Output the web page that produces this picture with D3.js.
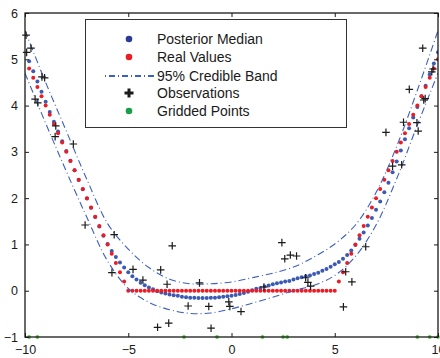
<!DOCTYPE html>
<html><head><meta charset="utf-8">
<script src="https://cdn.jsdelivr.net/npm/d3@7"></script>
<style>
html,body{margin:0;padding:0;background:#fff;}
svg{display:block;font-family:"Liberation Sans",Arial,Helvetica,sans-serif;}
</style></head>
<body><svg id="c" width="440" height="358"></svg>
<script>
// ---------- data ----------
const gridX = [-9.8,-9.6,-9.4,-9.2,-9.0,-8.8,-8.6,-8.4,-8.2,-8.0,-7.8,-7.6,-7.4,-7.2,-7.0,-6.8,-6.6,-6.4,-6.2,-6.0,
 -5.8,-5.6,-5.4,-5.2,-5.0,-4.8,-4.6,-4.4,-4.2,-4.0,-3.8,-3.6,-3.4,-3.2,-3.0,-2.8,-2.6,-2.4,-2.2,-2.0,
 -1.8,-1.6,-1.4,-1.2,-1.0,-0.8,-0.6,-0.4,-0.2,0.0,0.2,0.4,0.6,0.8,1.0,1.2,1.4,1.6,1.8,2.0,
 2.2,2.4,2.6,2.8,3.0,3.2,3.4,3.6,3.8,4.0,4.2,4.4,4.6,4.8,5.0,5.2,5.4,5.6,5.8,6.0,
 6.2,6.4,6.6,6.8,7.0,7.2,7.4,7.6,7.8,8.0,8.2,8.4,8.6,8.8,9.0,9.2,9.4,9.6,9.8,10.0];
const posteriorMedian = [4.96,4.74,4.52,4.30,4.08,3.86,3.65,3.44,3.23,3.02,2.81,2.60,2.39,2.19,1.99,1.79,1.59,1.39,1.19,1.01,
 0.86,0.73,0.61,0.50,0.40,0.31,0.24,0.17,0.12,0.07,0.03,-0.01,-0.04,-0.06,-0.08,-0.10,-0.11,-0.13,-0.14,-0.15,
 -0.15,-0.16,-0.16,-0.16,-0.15,-0.15,-0.14,-0.13,-0.12,-0.11,-0.09,-0.07,-0.05,-0.02,0.01,0.04,0.06,0.09,0.11,0.14,
 0.16,0.18,0.20,0.21,0.24,0.27,0.29,0.31,0.33,0.36,0.39,0.43,0.47,0.52,0.57,0.62,0.69,0.77,0.87,0.99,
 1.12,1.26,1.41,1.57,1.75,1.93,2.13,2.33,2.56,2.79,3.03,3.27,3.51,3.74,3.97,4.20,4.43,4.67,4.91,5.15];
const realValues = [4.8,4.6,4.4,4.2,4.0,3.8,3.6,3.4,3.2,3.0,2.8,2.6,2.4,2.2,2.0,1.8,1.6,1.4,1.2,1.0,
 0.8,0.6,0.4,0.2,0,0,0,0,0,0,0,0,0,0,0,0,0,0,0,0,
 0,0,0,0,0,0,0,0,0,0,0,0,0,0,0,0,0,0,0,0,
 0,0,0,0,0,0,0,0,0,0,0,0,0,0,0,0.2,0.4,0.6,0.8,1.0,
 1.2,1.4,1.6,1.8,2.0,2.2,2.4,2.6,2.8,3.0,3.2,3.4,3.6,3.8,4.0,4.2,4.4,4.6,4.8,5.0];
const bandX = [-10,-9,-8,-7,-6,-5,-4,-3,-2,-1,0,1,2,3,4,5,6,7,8,9,10];
const bandUpper = [5.62,4.50,3.45,2.40,1.45,0.90,0.50,0.25,0.15,0.15,0.19,0.28,0.38,0.51,0.73,1.01,1.42,2.12,3.12,4.33,5.62];
const bandLower = [4.70,3.62,2.58,1.58,0.64,0.05,-0.25,-0.41,-0.49,-0.48,-0.39,-0.27,-0.14,0.00,0.12,0.33,0.74,1.42,2.42,3.58,4.70];
const obsX = [-9.95,-9.92,-9.71,-9.18,-9.05,-9.51,-9.38,-8.51,-8.54,-7.66,-7.09,-5.68,-5.79,-4.77,-4.29,-3.43,-3.12,-2.87,-3.58,-3.04,
 -2.10,-1.55,-1.10,-0.99,-0.13,-0.08,0.46,1.57,2.44,2.58,2.85,3.15,3.59,3.70,3.83,5.42,5.53,5.83,6.50,7.48,
 7.80,8.24,8.33,8.98,9.04,8.61,9.31,9.38,9.26,9.70,9.76];
const obsY = [5.52,5.15,5.24,4.62,4.60,4.14,4.06,3.56,3.33,3.17,1.42,1.21,0.39,0.46,0.23,0.45,0.14,0.97,-0.79,-0.70,
 -0.33,0.17,-0.34,-0.81,-0.24,-0.34,-0.45,0.08,1.04,0.69,0.77,0.75,0.28,0.18,0.10,-0.35,0.41,0.19,0.95,3.42,
 2.69,2.72,3.64,3.63,3.45,4.35,4.12,4.15,5.24,4.73,4.79];
const griddedX = [-9.8,-9.4,-2.3,-0.7,1.5,2.5,2.7,9.0,9.6,10.0];
const griddedY = [-1,-1,-1,-1,-1,-1,-1,-1,-1,-1];
const xTicks = [-10,-5,0,5,10];
const yTicks = [-1,0,1,2,3,4,5,6];
const legendLabels = ["Posterior Median","Real Values","95% Credible Band","Observations","Gridded Points"];

// ---------- drawing ----------
const svg = d3.select("#c");
const L=25, R=438, T=13, B=337;
const x = d3.scaleLinear().domain([-10,10]).range([L,R]);
const y = d3.scaleLinear().domain([-1,6]).range([B,T]);
const BLUE="#3a5ab4", RED="#ec1c24", GREEN="#5cc84c", INK="#1a1a1a", BAND="#3d5fc2";

svg.append("defs").append("clipPath").attr("id","clip")
  .append("rect").attr("x",L).attr("y",T).attr("width",R-L).attr("height",B-T);
const plot = svg.append("g").attr("clip-path","url(#clip)");

plot.append("g").selectAll("circle").data(gridX).join("circle")
  .attr("cx",d=>x(d)).attr("cy",(d,i)=>y(posteriorMedian[i])).attr("r",2).attr("fill",BLUE);
plot.append("g").selectAll("circle").data(gridX).join("circle")
  .attr("cx",d=>x(d)).attr("cy",(d,i)=>y(realValues[i])).attr("r",2).attr("fill",RED);

const dashDot = "7,3,1,3";
[bandUpper,bandLower].forEach(arr=>{
  const line = d3.line().x((d,i)=>x(bandX[i])).y(d=>y(d)).curve(d3.curveCatmullRom);
  plot.append("path").datum(arr).attr("d",line).attr("fill","none")
    .attr("stroke",BAND).attr("stroke-width",1.1).attr("stroke-dasharray",dashDot);
});

const plus = "M-3.8,0H3.8M0,-3.8V3.8";
svg.append("g").selectAll("path").data(obsX).join("path")
  .attr("transform",(d,i)=>`translate(${x(d)},${y(obsY[i])})`)
  .attr("d",plus).attr("stroke",INK).attr("stroke-width",1.2).attr("fill","none");

svg.append("g").selectAll("circle").data(griddedX).join("circle")
  .attr("cx",d=>x(d)).attr("cy",(d,i)=>y(griddedY[i])).attr("r",1.9).attr("fill",GREEN);

// axes (MATLAB box style, ticks inward)
const fmt = d=>String(d).replace("-","\u2212");
const ax = (g)=>{g.selectAll(".domain").remove(); g.selectAll("line").attr("stroke",INK);
  g.selectAll("text").attr("fill",INK).style("font-size","12.5px").style("font-family","'Liberation Sans',Arial,sans-serif");};
svg.append("g").attr("transform",`translate(0,${B})`)
  .call(d3.axisBottom(x).tickValues(xTicks).tickSize(-4).tickPadding(8).tickFormat(fmt)).call(ax);
svg.append("g").attr("transform",`translate(0,${T})`)
  .call(d3.axisTop(x).tickValues(xTicks).tickSize(-4).tickFormat("")).call(ax);
svg.append("g").attr("transform",`translate(${L},0)`)
  .call(d3.axisLeft(y).tickValues(yTicks).tickSize(-4).tickPadding(7).tickFormat(fmt)).call(ax);
svg.append("g").attr("transform",`translate(${R},0)`)
  .call(d3.axisRight(y).tickValues(yTicks).tickSize(-4).tickFormat("")).call(ax);
svg.append("rect").attr("x",L).attr("y",T).attr("width",R-L).attr("height",B-T)
  .attr("fill","none").attr("stroke",INK).attr("stroke-width",1.3);

// legend
const lg = svg.append("g");
lg.append("rect").attr("x",85.5).attr("y",19.5).attr("width",261).attr("height",108)
  .attr("fill","#fff").attr("stroke","#333").attr("stroke-width",1);
const rowY = [39,57,76,93,111];
lg.selectAll("text").data(legendLabels).join("text")
  .attr("x",157).attr("y",(d,i)=>rowY[i]+5).text(d=>d)
  .attr("fill",INK).style("font-size","14px");
lg.append("circle").attr("cx",129).attr("cy",rowY[0]).attr("r",3.3).attr("fill","#2b3a95");
lg.append("circle").attr("cx",129).attr("cy",rowY[1]).attr("r",3.3).attr("fill",RED);
lg.append("line").attr("x1",105).attr("x2",154).attr("y1",rowY[2]).attr("y2",rowY[2])
  .attr("stroke",BAND).attr("stroke-width",2.2).attr("stroke-dasharray","1,3,6,3");
lg.append("path").attr("transform",`translate(129,${rowY[3]})`).attr("d","M-4.5,0H4.5M0,-4.5V4.5")
  .attr("stroke",INK).attr("stroke-width",3);
lg.append("circle").attr("cx",129).attr("cy",rowY[4]).attr("r",3.3).attr("fill","#1a9e4a");
</script></body></html>
